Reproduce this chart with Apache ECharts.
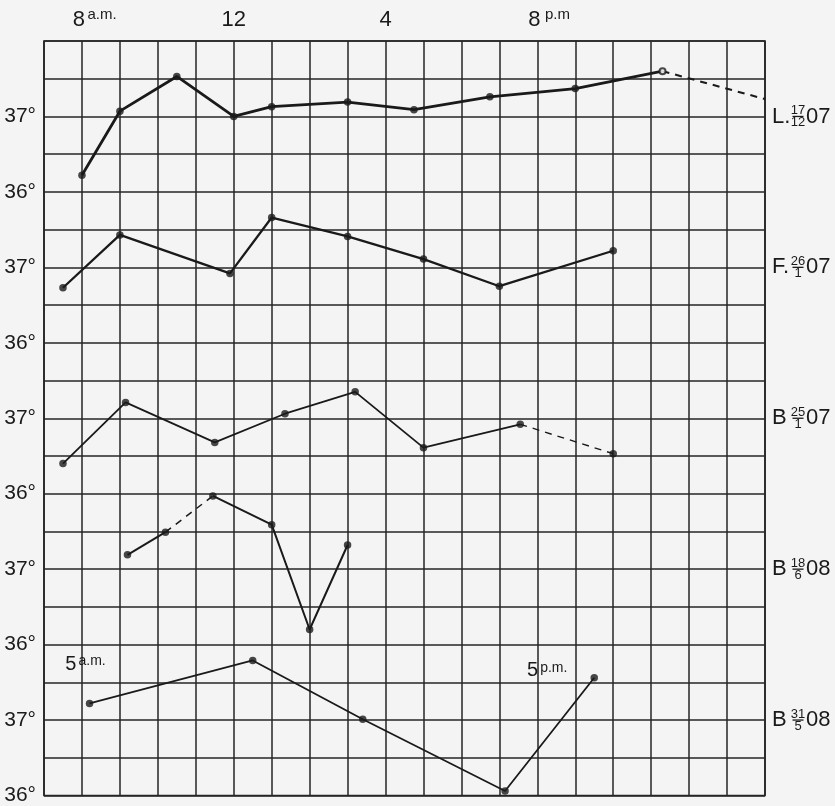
<!DOCTYPE html>
<html>
<head>
<meta charset="utf-8">
<script src="https://cdn.jsdelivr.net/npm/echarts@6/dist/echarts.min.js"></script>
<style>
  html, body { margin: 0; padding: 0; background: #f4f4f4; }
  #chart { width: 835px; height: 806px; }
</style>
</head>
<body>
<div id="chart"></div>
<script>
// Hour-of-day marks printed along the top edge
const timeTicks = [8, 12, 16, 20];
const timeTickNumbers = ['8', '12', '4', '8'];
const timeTickSuffixes = ['a.m.', '', '', 'p.m'];

// Curve captions, top to bottom: initial, day / month, year
const curveInitials = ['L.', 'F.', 'B', 'B', 'B'];
const curveDays = ['17', '26', '25', '18', '31'];
const curveMonths = ['12', '1', '1', '6', '5'];
const curveYears = ['07', '07', '07', '08', '08'];

// L. 17/12 07  (hour of day, temperature °C)
const lHours = [8, 9, 10.5, 12, 13, 15, 16.75, 18.75, 21, 23.3];
const lTemps = [36.22, 37.07, 37.53, 37.0, 37.13, 37.19, 37.09, 37.26, 37.37, 37.6];
const lDashed = [];
const lTailHour = 26;
const lTailTemp = 37.23;

// F. 26/1 07
const fHours = [7.5, 9, 11.9, 13, 15, 17, 19, 22];
const fTemps = [36.73, 37.43, 36.92, 37.66, 37.41, 37.11, 36.75, 37.22];
const fDashed = [];

// B 25/1 07
const bJanHours = [7.5, 9.15, 11.5, 13.35, 15.2, 17, 19.55, 22];
const bJanTemps = [36.40, 37.21, 36.68, 37.06, 37.35, 36.61, 36.92, 36.53];
const bJanDashed = [6];

// B 18/6 08
const bJunHours = [9.2, 10.2, 11.45, 13, 14, 15];
const bJunTemps = [37.19, 37.49, 37.97, 37.59, 36.20, 37.32];
const bJunDashed = [1];

// B 31/5 08 (readings from 5 a.m. to 5 p.m.)
const bMayHours = [8.2, 12.5, 15.4, 19.15, 21.5];
const bMayTemps = [37.22, 37.79, 37.01, 36.06, 37.56];
const bMayDashed = [];
const bMayNotes = ['5|a.m.', '5|p.m.'];

const FONT = "'Liberation Sans Narrow', 'Liberation Sans', Arial, sans-serif";
const INK = '#1a1a1a';
const GRID_INK = '#262626';

const curves = [
  { hours: lHours, temps: lTemps, dashed: lDashed, tail: [lTailHour, lTailTemp], width: 2.8, hollowLast: true },
  { hours: fHours, temps: fTemps, dashed: fDashed, width: 2.3 },
  { hours: bJanHours, temps: bJanTemps, dashed: bJanDashed, width: 1.8 },
  { hours: bJunHours, temps: bJunTemps, dashed: bJunDashed, width: 2.0 },
  { hours: bMayHours, temps: bMayTemps, dashed: bMayDashed, width: 1.8 }
];

// Each curve gets a 2-degree band; 36° of the lowest band sits on the bottom edge
const bandBase = k => (curves.length - 1 - k) * 2;

const series = [];
curves.forEach((c, k) => {
  const toY = t => +(t - 36 + bandBase(k)).toFixed(4);
  const pts = c.hours.map((h, i) => [h, toY(c.temps[i])]);

  const runs = [];
  let run = null;
  for (let i = 0; i < pts.length - 1; i++) {
    const dashed = c.dashed.includes(i);
    if (!run || run.dashed !== dashed) {
      run = { dashed, data: [pts[i]] };
      runs.push(run);
    }
    run.data.push(pts[i + 1]);
  }
  if (c.tail) {
    runs.push({ dashed: true, data: [pts[pts.length - 1], [c.tail[0], toY(c.tail[1])]] });
  }
  runs.forEach(r => {
    series.push({
      type: 'line',
      data: r.data,
      showSymbol: false,
      silent: true,
      animation: false,
      lineStyle: { color: INK, width: r.dashed ? c.width * 0.75 : c.width, type: r.dashed ? [7, 6] : 'solid' },
      z: 3
    });
  });

  const dots = {
    type: 'scatter',
    data: pts.map((p, i) => (c.hollowLast && i === pts.length - 1)
      ? { value: p, symbol: 'emptyCircle', symbolSize: 6, itemStyle: { color: INK, borderColor: INK, borderWidth: 1.8 } }
      : p),
    symbol: 'circle',
    symbolSize: 7.5,
    itemStyle: { color: INK },
    animation: false,
    silent: true,
    z: 4
  };

  if (k === curves.length - 1) {
    const first = pts[0], last = pts[pts.length - 1];
    const note = s => {
      const [n, suf] = s.split('|');
      return '{d|' + n + '}{s|' + suf + '}';
    };
    dots.markPoint = {
      symbol: 'circle',
      symbolSize: 1,
      itemStyle: { color: 'rgba(0,0,0,0)' },
      silent: true,
      animation: false,
      label: {
        show: true,
        position: 'inside',
        rich: {
          d: { fontFamily: FONT, fontSize: 20, color: INK, lineHeight: 20, verticalAlign: 'bottom' },
          s: { fontFamily: FONT, fontSize: 14, color: INK, lineHeight: 20, verticalAlign: 'top', padding: [0, 0, 0, 2] }
        }
      },
      data: [
        { coord: first, label: { formatter: note(bMayNotes[0]), offset: [-4, -39] } },
        { coord: last, label: { formatter: note(bMayNotes[1]), offset: [-47, -7] } }
      ]
    };
  }
  series.push(dots);
});

const bandOf = v => (curves.length - 1) - (v - 1) / 2;

const chart = echarts.init(document.getElementById('chart'), null, { renderer: 'canvas' });

const option = {
  backgroundColor: '#f4f4f4',
  animation: false,
  grid: {
    left: 44, top: 41, right: 70, bottom: 9,
    show: true, borderColor: GRID_INK, borderWidth: 1.7, backgroundColor: 'transparent'
  },
  xAxis: {
    type: 'value',
    position: 'top',
    min: 7, max: 26, interval: 1,
    axisLine: { show: false },
    axisTick: { show: false },
    splitLine: { show: true, lineStyle: { color: GRID_INK, width: 1.5 } },
    axisLabel: {
      margin: 10,
      showMinLabel: false, showMaxLabel: false,
      formatter: v => {
        const i = timeTicks.indexOf(v);
        if (i < 0) return '';
        const suf = timeTickSuffixes[i];
        if (!suf) return '{d|' + timeTickNumbers[i] + '}';
        return '{sp|}{d|' + timeTickNumbers[i] + '}{s|' + suf + '}';
      },
      rich: {
        d: { fontFamily: FONT, fontSize: 22, color: INK, lineHeight: 24, verticalAlign: 'bottom' },
        s: { fontFamily: FONT, fontSize: 15, color: INK, lineHeight: 24, verticalAlign: 'top', width: 32, align: 'left', padding: [0, 0, 0, 1] },
        sp: { width: 27, lineHeight: 24 }
      }
    }
  },
  yAxis: [
    {
      type: 'value',
      min: 0, max: 10, interval: 0.5,
      axisLine: { show: false },
      axisTick: { show: false },
      splitLine: { show: true, lineStyle: { color: GRID_INK, width: 1.5 } },
      axisLabel: {
        margin: 8,
        fontFamily: FONT, fontSize: 21, color: INK,
        showMaxLabel: false,
        formatter: v => (v % 1 !== 0 || v >= 10) ? '' : (36 + v % 2) + '°'
      }
    },
    {
      // curve initial and year
      type: 'value', position: 'right',
      min: 0, max: 10, interval: 0.5,
      axisLine: { show: false }, axisTick: { show: false }, splitLine: { show: false },
      axisLabel: {
        margin: 7,
        formatter: v => {
          if (v % 2 !== 1) return '';
          const k = bandOf(v);
          return '{a|' + curveInitials[k] + '}{y|' + curveYears[k] + '}';
        },
        rich: {
          a: { fontFamily: FONT, fontSize: 22, color: INK, width: 34, align: 'left' },
          y: { fontFamily: FONT, fontSize: 22, color: INK }
        }
      }
    },
    {
      // day over month
      type: 'value', position: 'right',
      min: 0, max: 10, interval: 0.5,
      axisLine: { show: false }, axisTick: { show: false }, splitLine: { show: false },
      axisLabel: {
        margin: 33,
        align: 'center',
        formatter: v => {
          if (v % 2 !== 1) return '';
          const k = bandOf(v);
          return '{n|' + curveDays[k] + '}\n{bar|}\n{n|' + curveMonths[k] + '}';
        },
        rich: {
          n: { fontFamily: FONT, fontSize: 13, color: INK, lineHeight: 10, align: 'center' },
          bar: { width: 11, height: 1.3, lineHeight: 2, backgroundColor: INK, align: 'center' }
        }
      }
    }
  ],
  series: series
};

chart.setOption(option);
</script>
</body>
</html>
